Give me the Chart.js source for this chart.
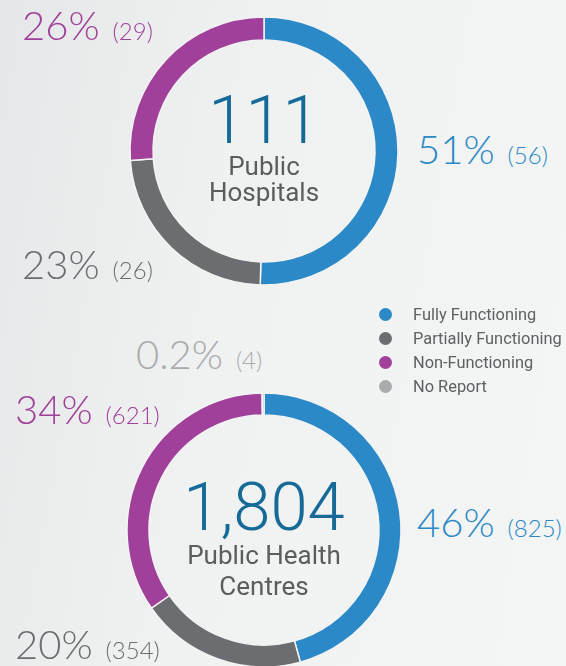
<!DOCTYPE html>
<html lang="en">
  <head>
    <meta charset="utf-8" />
    <title>Public facilities functionality</title>
    <style>
      html, body {
        margin: 0;
        padding: 0;
      }
      body {
        width: 566px;
        height: 666px;
        overflow: hidden;
        position: relative;
        background: linear-gradient(100deg, #e6e7e8 0%, #f0f1f1 40%, #f4f5f5 100%);
        font-family: "Roboto", "Liberation Sans", sans-serif;
      }
      canvas {
        position: absolute;
      }
      .lbl {
        position: absolute;
        display: flex;
        align-items: baseline;
        white-space: nowrap;
        font-family: "Lato", "Open Sans", sans-serif;
        font-weight: 300;
        line-height: 1;
      }
      .lbl .pct { font-size: 40px; }
      .lbl .cnt { font-size: 24px; margin-left: 13px; }
      .centre {
        position: absolute;
        width: 240px;
        text-align: center;
        color: #5b5c5e;
      }
      .centre .big {
        font-weight: 300;
        font-size: 67px;
        line-height: 66px;
        color: #166a97;
      }
      .centre .sub {
        font-size: 26px;
      }
      #legend {
        position: absolute;
        left: 378px;
        top: 303px;
        font-size: 16.4px;
        color: #5f6063;
      }
      #legend div {
        height: 24px;
        line-height: 24px;
        position: relative;
        padding-left: 35px;
        white-space: nowrap;
      }
      #legend i {
        position: absolute;
        left: 1px;
        top: 5px;
        width: 13px;
        height: 13px;
        border-radius: 50%;
      }
    </style>
  </head>
  <body>
    <canvas id="hospitals" width="300" height="300"></canvas>
    <canvas id="centres" width="300" height="300"></canvas>
    <div id="legend"></div>

    <script src="https://cdn.jsdelivr.net/npm/chart.js@4/dist/chart.umd.min.js"></script>

    <script>
      // data
      const categories = ['Fully Functioning', 'Partially Functioning', 'Non-Functioning', 'No Report'];
      const colors = ['#2a89c6', '#6c6d70', '#a0409a', '#aaabad'];

      const hospitalTotal = '111';
      const hospitalTitle = ['Public', 'Hospitals'];
      const hospitalCounts = [56, 26, 29];
      const hospitalPct = ['51%', '23%', '26%'];

      const centreTotal = '1,804';
      const centreTitle = ['Public Health', 'Centres'];
      const centreCounts = [825, 354, 621, 4];
      const centrePct = ['46%', '20%', '34%', '0.2%'];

      // layout: ring centre, radii and label spots (left x, baseline y)
      const hospitalRing = { cx: 264, cy: 151, outer: 134, inner: 111 };
      const centreRing = { cx: 264, cy: 530, outer: 137, inner: 115 };
      const hospitalSpots = [[417, 165], [22, 280], [22, 41]];
      const centreSpots = [[417, 538], [15, 660], [15, 425], [136, 370]];

      function drawRing(id, ring, counts) {
        const canvas = document.getElementById(id);
        canvas.style.left = (ring.cx - 150) + 'px';
        canvas.style.top = (ring.cy - 150) + 'px';
        return new Chart(canvas, {
          type: 'doughnut',
          data: {
            labels: categories.slice(0, counts.length),
            datasets: [{
              data: counts,
              backgroundColor: colors.slice(0, counts.length),
              borderColor: '#f2f3f3',
              borderWidth: 1.5
            }]
          },
          options: {
            responsive: false,
            animation: false,
            devicePixelRatio: 1,
            radius: ring.outer,
            cutout: (ring.inner / ring.outer * 100) + '%',
            layout: { padding: 0 },
            plugins: {
              legend: { display: false },
              tooltip: { enabled: false }
            }
          }
        });
      }

      function addLabels(pcts, counts, spots) {
        pcts.forEach((p, i) => {
          const el = document.createElement('div');
          el.className = 'lbl';
          el.style.color = colors[i];
          el.style.left = spots[i][0] + 'px';
          el.style.top = (spots[i][1] - 36) + 'px';
          el.innerHTML = '<span class="pct">' + p + '</span><span class="cnt">(' + counts[i] + ')</span>';
          document.body.appendChild(el);
        });
      }

      function addCentre(ring, total, title, bigTop, lineH) {
        const el = document.createElement('div');
        el.className = 'centre';
        el.style.left = (ring.cx - 120) + 'px';
        el.style.top = bigTop + 'px';
        el.innerHTML = '<div class="big">' + total + '</div>' +
          '<div class="sub" style="line-height:' + lineH + 'px">' + title.join('<br>') + '</div>';
        document.body.appendChild(el);
      }

      drawRing('hospitals', hospitalRing, hospitalCounts);
      drawRing('centres', centreRing, centreCounts);

      addLabels(hospitalPct, hospitalCounts, hospitalSpots);
      addLabels(centrePct, centreCounts, centreSpots);

      addCentre(hospitalRing, hospitalTotal, hospitalTitle, 87, 26);
      addCentre(centreRing, centreTotal, centreTitle, 474, 31);

      const legend = document.getElementById('legend');
      categories.forEach((c, i) => {
        const row = document.createElement('div');
        row.innerHTML = '<i style="background:' + colors[i] + '"></i>' + c;
        legend.appendChild(row);
      });
    </script>
  </body>
</html>
